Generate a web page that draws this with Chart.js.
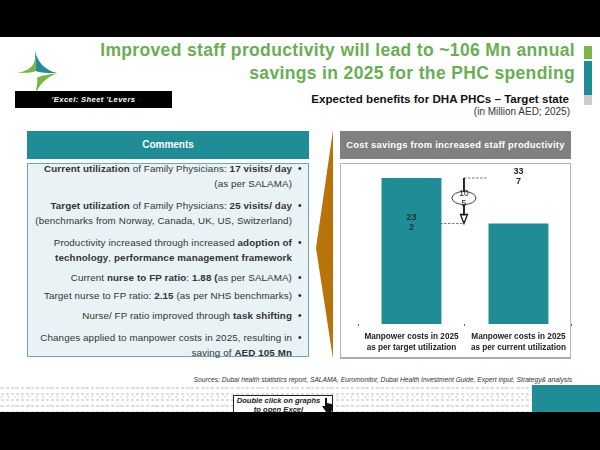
<!DOCTYPE html>
<html>
<head>
<meta charset="utf-8">
<script src="https://cdn.jsdelivr.net/npm/chart.js@4"></script>
<style>
  html,body{margin:0;padding:0;background:#fff;}
  #page{position:relative;width:600px;height:450px;overflow:hidden;background:#fff;font-family:"Liberation Sans",Arial,sans-serif;color:#222;}
  .abs{position:absolute;}
  .line{position:absolute;white-space:nowrap;text-align:right;line-height:14px;}
  #pattern{left:0;top:385px;width:532px;height:27px;background-color:#fff;
    background-image:radial-gradient(circle at 50% 50%,#d8d8d8 0 1px,transparent 1.4px),radial-gradient(circle at 20% 30%,#e2e2e2 0 1px,transparent 1.3px);
    background-size:5px 6px,7px 9px;}
  #comments{left:27px;top:163px;width:280px;height:192px;background:#e9f3f6;border:1px solid #6fa9ad;}
  .hdr{color:#fff;font-weight:bold;text-align:center;height:28px;line-height:28px;top:131px;white-space:nowrap;}
</style>
</head>
<body>
<div id="page">
  <div class="abs" style="left:0;top:0;width:600px;height:37px;background:#000"></div>
  <div class="abs" id="pattern"></div>
  <div class="abs" style="left:532px;top:385px;width:68px;height:27px;background:#1f8c96"></div>

  <svg class="abs" style="left:14px;top:48px" width="46" height="46" viewBox="0 0 46 46">
    <path d="M21 3 C22 14 20 22 3 25 C14 25 20 24 22 23 Z" fill="#7ab648"/>
    <path d="M21 3 C24 14 30 22 43 25 C34 25 27 25 22 23 Z" fill="#1f8c96"/>
    <path d="M43 25 C32 27 25 28 23 30 C24 35 22 40 22 46 C25 36 32 30 43 25 Z" fill="#7ab648"/>
  </svg>

  <div class="line" id="t1" style="right:25px;top:38px;font-size:17.5px;line-height:24px;font-weight:bold;color:#6aad55;letter-spacing:.35px"></div>
  <div class="line" id="t2" style="right:25px;top:61px;font-size:17.5px;line-height:24px;font-weight:bold;color:#6aad55;letter-spacing:.35px"></div>

  <div class="abs" style="left:584px;top:46px;width:8px;height:13px;background:#7ab648"></div>
  <div class="abs" style="left:584px;top:61px;width:8px;height:34px;background:#1f8c96"></div>
  <div class="abs" style="left:584px;top:95px;width:8px;height:10px;background:#ccc"></div>

  <div class="abs" id="sheet" style="left:15px;top:91px;width:157px;height:17px;line-height:17px;background:#000;color:#fff;font-size:7.6px;font-style:italic;font-weight:bold;text-align:center;letter-spacing:.4px"></div>

  <div class="line" id="sub1" style="right:31px;top:92px;font-size:11.6px;font-weight:bold;color:#111"></div>
  <div class="line" id="sub2" style="right:30px;top:105px;font-size:10px;color:#333"></div>

  <div class="abs hdr" id="hdrL" style="left:27px;width:282px;background:#1f8c96;font-size:10px"></div>
  <div class="abs hdr" id="hdrR" style="left:340px;width:231px;background:#808080;font-size:9.4px;letter-spacing:.25px"></div>

  <div class="abs" id="comments"></div>
  <div id="commentLines"></div>

  <svg class="abs" style="left:316px;top:130px" width="18" height="230">
    <polygon points="17,0 17,229 0,118" fill="#b8740b"/>
  </svg>

  <div class="abs" style="left:340px;top:163px;width:229px;height:193px;border:1px solid #b5b5b5;border-bottom:2px solid #aaa"></div>
  <canvas class="abs" id="chart" width="232" height="196" style="left:340px;top:163px"></canvas>

  <div class="line" id="src" style="right:28px;top:373px;font-size:6.7px;font-style:italic;color:#333"></div>

  <div class="abs" style="left:233px;top:395px;width:100px;height:20px;background:#fff;border:1px solid #222;box-sizing:border-box;font-size:7.6px;font-style:italic;font-weight:bold;text-align:center;line-height:8.5px;padding-top:1px;padding-right:9px;color:#222" id="btn"></div>
  <svg class="abs" style="left:322px;top:398px" width="12" height="14" viewBox="0 0 12 14">
    <path d="M3 0 L5 0 L5 5 L10 6 L11 11 L9 14 L4 14 L0 8 L3 8 Z" fill="#111"/>
  </svg>
  <div class="abs" style="left:0;top:412px;width:600px;height:38px;background:#000"></div>
</div>

<script>
const el = (id) => document.getElementById(id);

const titleLines = ['Improved staff productivity will lead to ~106 Mn annual','savings in 2025 for the PHC spending'];
const categories = [
  ['Manpower costs in 2025','as per target utilization'],
  ['Manpower costs in 2025','as per current utilization']
];
const barValues = [337, 232];
const barLabels = [['23','2'], ['33','7']];
const gapLabel = ['10','5'];

const commentRows = [
  [169, '<b>Current utilization</b> of Family Physicians: <b>17 visits/ day</b>', true],
  [184, '(as per SALAMA)', false],
  [206, '<b>Target utilization</b> of Family Physicians: <b>25 visits/ day</b>', true],
  [221, '(benchmarks from Norway, Canada, UK, US, Switzerland)', false],
  [243, 'Productivity increased through increased <b>adoption of</b>', true],
  [258, '<b>technology</b>, <b>performance management framework</b>', false],
  [278, 'Current <b>nurse to FP ratio</b>: <b>1.88 (</b>as per SALAMA)', true],
  [296, 'Target nurse to FP ratio: <b>2.15</b> (as per NHS benchmarks)', true],
  [316, 'Nurse/ FP ratio improved through <b>task shifting</b>', true],
  [338, 'Changes applied to manpower costs in 2025, resulting in', true],
  [353, 'saving of  <b>AED 105 Mn</b>', false]
];

el('t1').textContent = titleLines[0];
el('t2').textContent = titleLines[1];
el('sheet').textContent = "'Excel: Sheet 'Levers";
el('sub1').textContent = 'Expected benefits for DHA PHCs \u2013 Target state';
el('sub2').textContent = '(in Million AED; 2025)';
el('hdrL').textContent = 'Comments';
el('hdrR').textContent = 'Cost savings from increased staff productivity';
el('src').textContent = 'Sources: Dubai health statistics report, SALAMA, Euromonitor, Dubai Health Investment Guide, Expert input, Strategy& analysis';
el('btn').innerHTML = 'Double click on graphs<br>to open Excel';

const box = el('commentLines');
commentRows.forEach(([y, html, bullet]) => {
  const d = document.createElement('div');
  d.className = 'line';
  d.style.cssText = `right:308px;top:${y-7}px;font-size:9.8px;letter-spacing:.1px;color:#333`;
  d.innerHTML = html;
  box.appendChild(d);
  if(bullet){
    const b = document.createElement('div');
    b.className = 'line';
    b.style.cssText = `left:298px;top:${y-7}px;font-size:10px;color:#222`;
    b.textContent = '\u2022';
    box.appendChild(b);
  }
});

// labels and the 105 gap marker, placed from the chart's own scales
const annotate = {
  id: 'annotate',
  afterDatasetsDraw(chart){
    const {ctx, scales:{x, y}} = chart;
    const x0 = x.getPixelForValue(0), x1 = x.getPixelForValue(1);
    const yHi = y.getPixelForValue(barValues[0]), yLo = y.getPixelForValue(barValues[1]);
    const mid = (x0 + x1) / 2 - 1;
    ctx.save();
    ctx.font = 'bold 9px "Liberation Sans"';
    ctx.textAlign = 'center';
    ctx.textBaseline = 'middle';
    ctx.fillStyle = '#12343a';
    ctx.fillText(barLabels[0][0], x0, yLo - 6);
    ctx.fillText(barLabels[0][1], x0, yLo + 4);
    ctx.fillStyle = '#222';
    ctx.fillText(barLabels[1][0], x1, yHi - 6);
    ctx.fillText(barLabels[1][1], x1, yHi + 4);

    // dashed leaders
    ctx.strokeStyle = '#555';
    ctx.lineWidth = 0.8;
    ctx.setLineDash([2.5, 1.5]);
    ctx.beginPath();
    ctx.moveTo(mid, yHi); ctx.lineTo(mid + 24, yHi);
    ctx.moveTo(mid - 24, yLo); ctx.lineTo(mid, yLo);
    ctx.stroke();
    ctx.setLineDash([]);

    // arrow
    ctx.strokeStyle = '#111';
    ctx.lineWidth = 1.8;
    ctx.beginPath();
    ctx.moveTo(mid, yHi); ctx.lineTo(mid, yLo - 8);
    ctx.stroke();
    ctx.beginPath();
    ctx.moveTo(mid - 3.5, yLo - 9); ctx.lineTo(mid + 3.5, yLo - 9); ctx.lineTo(mid, yLo); ctx.closePath();
    ctx.lineWidth = 1.3;
    ctx.stroke();

    // bubble
    const cy = yHi + 20;
    ctx.beginPath();
    ctx.ellipse(mid, cy, 12, 6.5, 0, 0, Math.PI*2);
    ctx.fillStyle = '#fff';
    ctx.fill();
    ctx.lineWidth = 0.8;
    ctx.stroke();
    ctx.fillStyle = '#222';
    ctx.font = '8.5px "Liberation Sans"';
    ctx.fillText(gapLabel[0], mid, cy - 4);
    ctx.fillText(gapLabel[1], mid, cy + 6);
    ctx.restore();
  }
};

new Chart(el('chart'), {
  type: 'bar',
  data: {
    labels: categories,
    datasets: [{ data: barValues, backgroundColor: '#1f8c96', categoryPercentage: 1, barPercentage: 0.56 }]
  },
  options: {
    responsive: false,
    animation: false,
    layout: { padding: { top: 15, left: 18, right: 0, bottom: 0 } },
    plugins: { legend: { display: false }, tooltip: { enabled: false } },
    scales: {
      x: {
        grid: { drawOnChartArea: false, drawTicks: true, tickLength: 2, color: '#444', lineWidth: 0.8 },
        border: { display: false },
        ticks: { autoSkip: false, maxRotation: 0, padding: 6, color: '#222', font: { family: '"Liberation Sans"', size: 8.2, weight: 'bold', lineHeight: 1.25 } },
        afterFit(axis){ axis.height = 35; }
      },
      y: { display: false, min: 0, max: 337 }
    }
  },
  plugins: [annotate]
});
</script>
</body>
</html>
